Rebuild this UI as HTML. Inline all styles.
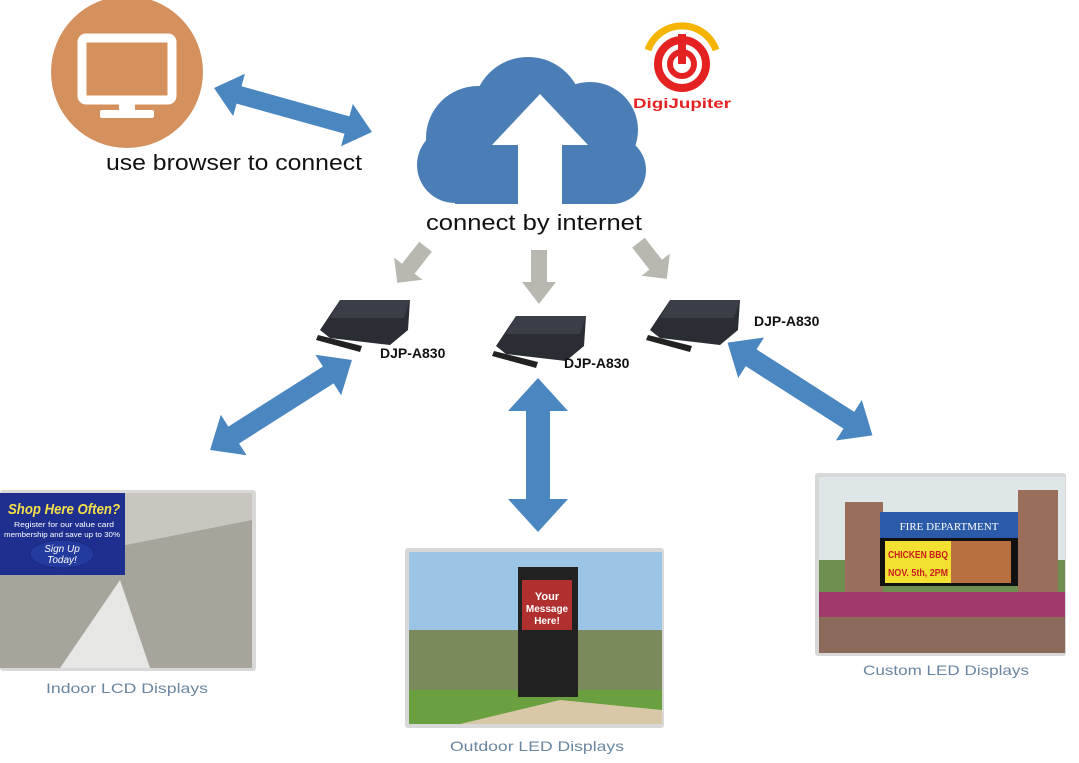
<!DOCTYPE html>
<html><head><meta charset="utf-8"><style>
html,body{margin:0;padding:0;background:#fff;width:1079px;height:763px;overflow:hidden}
svg{display:block}
</style></head><body>
<svg width="1079" height="763" viewBox="0 0 1079 763" xmlns="http://www.w3.org/2000/svg" font-family="Liberation Sans, sans-serif">
<!-- PC circle -->
<circle cx="127" cy="72" r="76" fill="#d4915e"/>
<rect x="82" y="38" width="90" height="62" rx="4" fill="none" stroke="#fff" stroke-width="9"/>
<rect x="119" y="100" width="16" height="12" fill="#fff"/>
<rect x="100" y="110" width="54" height="8" rx="2" fill="#fff"/>
<!-- top-left arrow -->
<g transform="translate(293,110) rotate(15.6)" fill="#4a86c0"><polygon points="-82,0 -56,-22 -56,-9 56,-9 56,-22 82,0 56,22 56,9 -56,9 -56,22"/></g>
<text x="106" y="170" font-size="22" fill="#111" textLength="256" lengthAdjust="spacingAndGlyphs">use browser to connect</text>
<!-- cloud -->
<g fill="#4b7eb6">
<circle cx="478" cy="138" r="52"/>
<circle cx="528" cy="112" r="55"/>
<circle cx="590" cy="130" r="48"/>
<circle cx="455" cy="165" r="38"/>
<circle cx="612" cy="170" r="34"/>
<rect x="455" y="140" width="160" height="64"/>
</g>
<polygon points="540,94 492,145 518,145 518,206 562,206 562,145 588,145" fill="#fff"/>
<text x="426" y="230" font-size="22" fill="#111" textLength="216" lengthAdjust="spacingAndGlyphs">connect by internet</text>
<!-- logo -->
<path d="M648,50 A36,36 0 0 1 716,50" fill="none" stroke="#f4b400" stroke-width="7"/>
<circle cx="682" cy="64" r="24" fill="none" stroke="#e52222" stroke-width="8"/>
<circle cx="682" cy="64" r="12" fill="none" stroke="#e52222" stroke-width="6"/>
<rect x="678" y="34" width="8" height="30" fill="#e52222"/>
<text x="633" y="108" font-size="14" font-weight="bold" fill="#e52222" textLength="98" lengthAdjust="spacingAndGlyphs">DigiJupiter</text>
<!-- gray arrows -->
<g fill="#b8b8b0">
<polygon points="531,250 547,250 547,282 556,282 539,304 522,282 531,282"/>
<g transform="translate(412,264) rotate(128)"><polygon points="-22,-8 6,-8 6,-18 24,0 6,18 6,8 -22,8"/></g>
<g transform="translate(652,260) rotate(52)"><polygon points="-22,-8 6,-8 6,-18 24,0 6,18 6,8 -22,8"/></g>
</g>
<!-- devices -->
<g id="dev">
<polygon points="320,330 340,300 410,300 408,330 390,345 330,338" fill="#2a2d33"/>
<polygon points="340,300 410,300 404,318 330,318" fill="#3a3e46"/>
<polygon points="318,335 362,346 360,352 316,340" fill="#222"/>
</g>
<use href="#dev" transform="translate(176,16)"/>
<use href="#dev" transform="translate(330,0)"/>
<g font-size="14" font-weight="bold" fill="#111">
<text x="380" y="358">DJP-A830</text>
<text x="564" y="368">DJP-A830</text>
<text x="754" y="326">DJP-A830</text>
</g>
<!-- blue double arrows -->
<g fill="#4a86c0">
<g transform="translate(281,405) rotate(-32.4)"><polygon points="-84,0 -56,-24 -56,-10 56,-10 56,-24 84,0 56,24 56,10 -56,10 -56,24"/></g>
<g transform="translate(538,455) rotate(90)"><polygon points="-77,0 -44,-30 -44,-12 44,-12 44,-30 77,0 44,30 44,12 -44,12 -44,30"/></g>
<g transform="translate(800,389) rotate(32.6)"><polygon points="-86,0 -58,-24 -58,-10 58,-10 58,-24 86,0 58,24 58,10 -58,10 -58,24"/></g>
</g>
<!-- left photo -->
<rect x="0" y="490" width="256" height="181" rx="3" fill="#d8d8d8"/>
<rect x="0" y="493" width="252" height="175" fill="#c9c6c0"/>
<polygon points="0,570 252,520 252,668 0,668" fill="#a7a49c"/>
<polygon points="60,668 120,580 150,668" fill="#e6e6e4"/>
<rect x="0" y="493" width="125" height="82" fill="#1f2f8f"/>
<text x="8" y="514" font-size="15" font-weight="bold" fill="#f4e04a" font-style="italic" textLength="112" lengthAdjust="spacingAndGlyphs">Shop Here Often?</text>
<text x="14" y="527" font-size="7" fill="#fff" textLength="100" lengthAdjust="spacingAndGlyphs">Register for our value card</text>
<text x="4" y="537" font-size="7" fill="#fff" textLength="116" lengthAdjust="spacingAndGlyphs">membership and save up to 30%</text>
<ellipse cx="62" cy="554" rx="32" ry="14" fill="#233a9e" stroke="#1a2a80"/>
<text x="62" y="552" font-size="10" fill="#fff" text-anchor="middle" font-style="italic">Sign Up</text>
<text x="62" y="563" font-size="10" fill="#fff" text-anchor="middle" font-style="italic">Today!</text>
<text x="46" y="693" font-size="14" fill="#6a86a0" textLength="162" lengthAdjust="spacingAndGlyphs">Indoor LCD Displays</text>
<!-- center photo -->
<rect x="405" y="548" width="259" height="180" rx="3" fill="#d8d8d8"/>
<rect x="409" y="552" width="253" height="172" fill="#9cc4e4"/>
<rect x="409" y="630" width="253" height="60" fill="#7a8a5a"/>
<rect x="409" y="690" width="253" height="34" fill="#6aa040"/>
<polygon points="460,724 560,700 662,710 662,724" fill="#d8c8a8"/>
<rect x="518" y="567" width="60" height="130" fill="#222"/>
<rect x="522" y="580" width="50" height="50" fill="#b03030"/>
<text x="547" y="600" font-size="11" font-weight="bold" fill="#fff" text-anchor="middle">Your</text>
<text x="547" y="612" font-size="10" font-weight="bold" fill="#fff" text-anchor="middle">Message</text>
<text x="547" y="624" font-size="10" font-weight="bold" fill="#fff" text-anchor="middle">Here!</text>
<text x="450" y="751" font-size="14" fill="#6a86a0" textLength="174" lengthAdjust="spacingAndGlyphs">Outdoor LED Displays</text>
<!-- right photo -->
<rect x="815" y="473" width="251" height="183" rx="3" fill="#d8d8d8"/>
<rect x="819" y="477" width="246" height="176" fill="#dfe6e8"/>
<rect x="819" y="560" width="246" height="40" fill="#6f8f50"/>
<rect x="845" y="502" width="38" height="110" fill="#9a6e5a"/>
<rect x="1018" y="490" width="40" height="120" fill="#9a6e5a"/>
<rect x="880" y="512" width="138" height="26" fill="#2a5aa8"/>
<text x="949" y="530" font-size="11" fill="#fff" text-anchor="middle" font-family="Liberation Serif, serif">FIRE DEPARTMENT</text>
<rect x="880" y="538" width="138" height="48" fill="#111"/>
<rect x="885" y="541" width="66" height="42" fill="#f4e030"/>
<rect x="951" y="541" width="60" height="42" fill="#b87040"/>
<text x="918" y="558" font-size="10" font-weight="bold" fill="#c81e1e" text-anchor="middle" textLength="60" lengthAdjust="spacingAndGlyphs">CHICKEN BBQ</text>
<text x="918" y="576" font-size="10" font-weight="bold" fill="#c81e1e" text-anchor="middle" textLength="60" lengthAdjust="spacingAndGlyphs">NOV. 5th, 2PM</text>
<rect x="819" y="592" width="246" height="25" fill="#a03a6a"/>
<rect x="819" y="617" width="246" height="36" fill="#8a6a5a"/>
<text x="863" y="675" font-size="14" fill="#6a86a0" textLength="166" lengthAdjust="spacingAndGlyphs">Custom LED Displays</text>
</svg>
</body></html>
